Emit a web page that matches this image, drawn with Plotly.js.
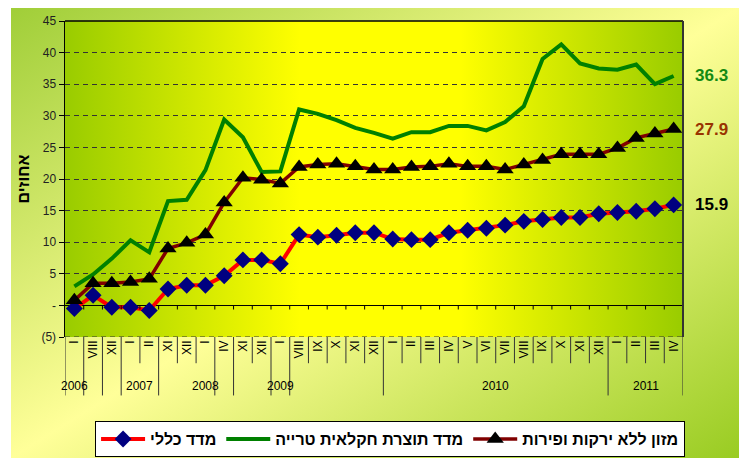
<!DOCTYPE html>
<html>
<head>
<meta charset="utf-8">
<script src="https://cdn.plot.ly/plotly-3.0.1.min.js"></script>
<style>
  html, body { margin: 0; padding: 0; background: #ffffff; width: 739px; height: 458px; overflow: hidden; }
  #outer { position: absolute; left: 11px; top: 8px; width: 728px; height: 450px;
           background: linear-gradient(to bottom right, #a0ce38 0%, #ffff99 50%, #99cc22 100%); }
  #plotbg { position: absolute; left: 65px; top: 21px; width: 618px; height: 316px;
            background: linear-gradient(to right, #99cc00 0%, #ffff00 38%, #ffff00 64%, #99cc00 100%); }
  #chart { position: absolute; left: 0; top: 0; width: 739px; height: 458px; }
</style>
</head>
<body>
<div id="outer"></div>
<div id="plotbg"></div>
<div id="chart"></div>
<script>
// Month labels (Roman numerals) for each observation
const categories = ["I","VIII","XII","I","II","XI","XII","I","IV","XI","XII","I","VIII","IX","X","XI","XII",
  "I","II","III","IV","V","VI","VII","VIII","IX","X","XI","XII","I","II","III","IV"];
// Year labels and where they sit along the category axis
const yearLabels = ["2006","2007","2008","2009","2010","2011"];
const yearTickPos = [0, 3.5, 7, 11, 22.5, 30.5];
// Category boundaries that carry a long divider line
const dividerBoundaries = [0,1,2,3,5,8,9,11,12,17,29,33];

// Series (percent change)
const seriesGeneralName = "מדד כללי";
const seriesGeneral = [-0.5,1.6,-0.3,-0.3,-0.8,2.6,3.2,3.2,4.7,7.2,7.2,6.6,11.2,10.8,11.1,11.5,11.5,
  10.5,10.4,10.4,11.5,11.9,12.2,12.7,13.3,13.6,13.9,13.9,14.5,14.7,14.9,15.3,15.9];
const seriesFreshName = "מדד תוצרת חקלאית טרייה";
const seriesFresh = [3.0,4.9,7.4,10.3,8.4,16.5,16.7,21.4,29.4,26.6,21.1,21.2,31.0,30.3,29.3,28.1,27.3,
  26.4,27.4,27.4,28.4,28.4,27.7,29.0,31.5,39.0,41.3,38.3,37.5,37.3,38.1,35.0,36.3];
const seriesFoodName = "מזון ללא ירקות ופירות";
const seriesFood = [0.8,3.5,3.5,3.7,4.2,9.0,9.9,11.2,16.3,20.2,19.9,19.3,21.9,22.3,22.4,22.0,21.5,
  21.5,21.9,22.0,22.4,22.0,22.0,21.5,22.3,23.0,23.9,23.9,23.9,24.9,26.5,27.2,27.9];

const yTickVals = [-5,0,5,10,15,20,25,30,35,40,45];
const yTickText = ["(5)","-","5","10","15","20","25","30","35","40","45"];
const yTitle = "אחוזים";

const xIdx = categories.map((_, i) => i);
const FONT = "Liberation Sans, Arial, sans-serif";

const traces = [
  { x: xIdx, y: seriesGeneral, name: seriesGeneralName, type: "scatter", mode: "lines+markers",
    line: { color: "#ff0000", width: 4 },
    marker: { symbol: "diamond", size: 13, color: "#000080" } },
  { x: xIdx, y: seriesFresh, name: seriesFreshName, type: "scatter", mode: "lines",
    line: { color: "#008000", width: 4 } },
  { x: xIdx, y: seriesFood, name: seriesFoodName, type: "scatter", mode: "lines+markers",
    line: { color: "#800000", width: 3.5 },
    marker: { symbol: "triangle-up", size: 15, color: "#000000" } }
];

const shapes = [];
const n = categories.length;
for (let b = 0; b <= n; b++) {
  const xb = b - 0.5;
  const long = dividerBoundaries.indexOf(b) >= 0;
  shapes.push({ type: "line", xref: "x", yref: "paper", x0: xb, x1: xb, y0: 0, y1: long ? -0.185 : -0.083,
    line: { color: "#333333", width: 1 } });
  if (b > 0 && b < n) {
    shapes.push({ type: "line", xref: "x", yref: "y", x0: xb, x1: xb, y0: 0, y1: -0.65,
      line: { color: "#000000", width: 1 } });
  }
}
// plot frame
shapes.push({ type: "line", xref: "paper", yref: "paper", x0: 0, x1: 1, y0: 1, y1: 1, line: { color: "#000", width: 1.5 } });
shapes.push({ type: "line", xref: "paper", yref: "paper", x0: 1, x1: 1, y0: 0, y1: 1, line: { color: "#333", width: 2 } });
shapes.push({ type: "line", xref: "paper", yref: "y", x0: 0, x1: 1, y0: -5, y1: -5, line: { color: "#333", width: 1, dash: "5px,4px" } });

const annotations = yearLabels.map((t, i) => ({
  text: t, x: yearTickPos[i], xref: "x", y: -0.155, yref: "paper", showarrow: false,
  font: { family: FONT, size: 12, color: "#000" }, xanchor: "center", yanchor: "middle"
}));
const endLabels = [
  { v: seriesFresh[n - 1], c: "#138a13" },
  { v: seriesFood[n - 1], c: "#993300" },
  { v: seriesGeneral[n - 1], c: "#000000" }
];
endLabels.forEach(e => annotations.push({
  text: "<b>" + e.v.toFixed(1) + "</b>", x: 1.016, xref: "paper", y: e.v, yref: "y",
  xanchor: "left", yanchor: "middle", showarrow: false,
  font: { family: FONT, size: 17, color: e.c }
}));

const layout = {
  width: 739, height: 458,
  margin: { l: 65, r: 56, t: 21, b: 121, autoexpand: false },
  paper_bgcolor: "rgba(0,0,0,0)",
  plot_bgcolor: "rgba(0,0,0,0)",
  showlegend: true,
  legend: {
    orientation: "h", x: 0.526, xanchor: "center", y: -0.266, yanchor: "top",
    itemwidth: 44,
    bgcolor: "#ffffff", bordercolor: "#000000", borderwidth: 1,
    font: { family: FONT, size: 16, color: "#000", weight: "bold" }
  },
  xaxis: {
    range: [-0.5, n - 0.5], tickmode: "array", tickvals: xIdx, ticktext: categories,
    tickangle: -90, ticks: "", showgrid: false, zeroline: false, showline: false,
    tickfont: { family: FONT, size: 12, color: "#000" }, fixedrange: true
  },
  yaxis: {
    range: [-5, 45], tickmode: "array", tickvals: yTickVals, ticktext: yTickText,
    ticks: "outside", ticklen: 5, tickcolor: "#000", showline: true, linecolor: "#000", linewidth: 1.5,
    showgrid: true, gridcolor: "#333", griddash: "5px,4px", gridwidth: 1,
    zeroline: true, zerolinecolor: "#000", zerolinewidth: 1.5,
    tickfont: { family: FONT, size: 12, color: "#222" },
    title: { text: "<b>" + yTitle + "</b>", font: { family: FONT, size: 16, color: "#000" }, standoff: 8 },
    fixedrange: true
  },
  shapes: shapes,
  annotations: annotations
};

Plotly.newPlot("chart", traces, layout, { displayModeBar: false, staticPlot: true });
</script>
</body>
</html>
